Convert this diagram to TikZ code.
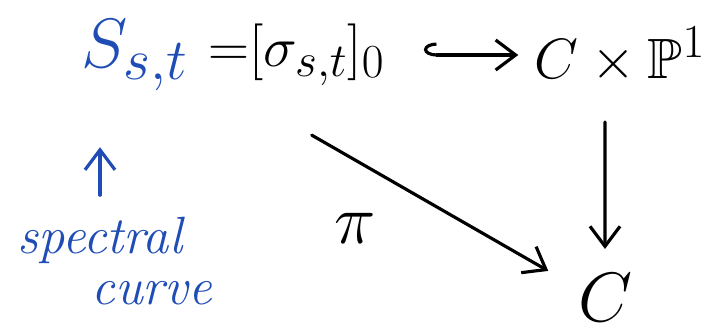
\documentclass[tikz,border=0pt]{standalone}
\usepackage{amssymb}
\usepackage{tikz}
\usetikzlibrary{arrows.meta, positioning}
\definecolor{InkBlue}{HTML}{1F4DB5}
\begin{document}
\begin{tikzpicture}[
    x=0.02cm, y=-0.02cm,
    big/.style={font=\Huge, scale=1.6, inner sep=0pt},
    mid/.style={font=\Huge, scale=1.3, inner sep=0pt},
    note/.style={font=\Huge\itshape, scale=1.2, text=InkBlue, inner sep=0pt},
    arrow/.style={-{Straight Barb[length=4mm, width=6mm]}, line width=1.8pt, line cap=round},
    hookarrow/.style={{Hooks[right, length=2.5mm, width=5mm]}-{Straight Barb[length=4mm, width=6mm]}, line width=1.8pt}
]
\useasboundingbox (0,0) rectangle (716,335);

\node[big, text=InkBlue] (curve) at (135,55) {$S_{s,t}$};
\node[mid, anchor=west] (eq) at (208,55) {${=}[\sigma_{s,t}]_0$};
\node[mid] (prod) at (620,55) {$C\times\mathbb{P}^1$};
\node[big] (base) at (605,298) {$C$};
\node[big] (pi) at (355,228) {$\pi$};
\node[note] (spec) at (100,240) {spectral};
\node[note, below right=10pt and -52pt of spec] (crv) {curve};

\draw[hookarrow, shorten <=22pt, shorten >=9pt] (eq) -- (prod);
\draw[arrow, shorten <=22pt, shorten >=14pt] (prod.south -| base) -- (base);
\draw[arrow, shorten <=56pt, shorten >=3pt] ([xshift=-40pt]eq.south) -- ([xshift=-14pt]base.north west);
\draw[arrow, InkBlue, shorten <=12pt, shorten >=32pt] (spec.north) -- (spec.north |- curve.south);

\end{tikzpicture}
\end{document}
